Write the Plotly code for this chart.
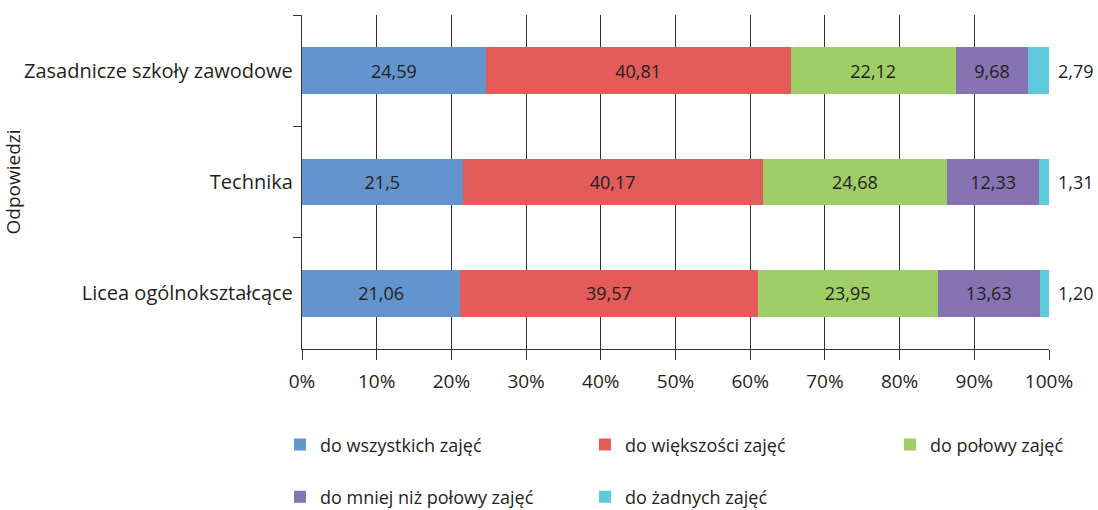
import plotly.graph_objects as go

categories = ["Zasadnicze szkoły zawodowe", "Technika", "Licea ogólnokształcące"]
series_names = ["do wszystkich zajęć", "do większości zajęć", "do połowy zajęć",
                "do mniej niż połowy zajęć", "do żadnych zajęć"]
v_all = [24.59, 21.50, 21.06]
v_most = [40.81, 40.17, 39.57]
v_half = [22.12, 24.68, 23.95]
v_less = [9.68, 12.33, 13.63]
v_none = [2.79, 1.31, 1.20]
t_all = ["24,59", "21,5", "21,06"]
t_most = ["40,81", "40,17", "39,57"]
t_half = ["22,12", "24,68", "23,95"]
t_less = ["9,68", "12,33", "13,63"]
t_none = ["2,79", "1,31", "1,20"]
x_tickvals = [0, 10, 20, 30, 40, 50, 60, 70, 80, 90, 100]
x_ticktext = ["0%", "10%", "20%", "30%", "40%", "50%", "60%", "70%", "80%", "90%", "100%"]

colors = ["#6394CE", "#E35C59", "#9FCD66", "#8873B2", "#5FC9DC"]
values = [v_all, v_most, v_half, v_less, v_none]
texts = [t_all, t_most, t_half, t_less, t_none]

FONT = "Open Sans"
TXT = "#231F20"
LINE = "#333333"

fig = go.Figure()
for i, (name, vals, txt, col) in enumerate(zip(series_names, values, texts, colors)):
    last = i == len(series_names) - 1
    fig.add_trace(go.Bar(
        y=categories, x=vals, name=name, orientation="h",
        marker=dict(color=col, line=dict(width=0)),
        text=None if last else txt,
        textposition="none" if last else "inside",
        insidetextanchor="middle",
        textangle=0,
        textfont=dict(family=FONT, size=18, color=TXT),
        legend="legend" if i < 3 else "legend2",
        hoverinfo="skip",
    ))

# value labels for the last (thin) segment, placed just right of the 100% end
for cat, lab in zip(categories, t_none):
    fig.add_annotation(
        x=100, y=cat, xref="x", yref="y", text=lab, showarrow=False,
        xanchor="left", yanchor="middle", xshift=7,
        font=dict(family=FONT, size=18, color=TXT),
    )

fig.update_layout(
    width=1098, height=510,
    barmode="stack", barnorm="percent", bargap=0.58,
    plot_bgcolor="white", paper_bgcolor="white",
    margin=dict(l=302, r=49, t=15, b=161, autoexpand=False),
    font=dict(family=FONT, size=18, color=TXT),
    xaxis=dict(
        range=[0, 100], tickvals=x_tickvals, ticktext=x_ticktext,
        showgrid=True, gridcolor=LINE, gridwidth=1.3,
        showline=True, linecolor=LINE, linewidth=1.3,
        ticks="outside", ticklen=10, tickcolor=LINE, tickwidth=1.3,
        tickfont=dict(family=FONT, size=19, color=TXT),
        ticklabelstandoff=5, zeroline=False,
    ),
    yaxis=dict(
        autorange="reversed",
        showline=True, linecolor=LINE, linewidth=1.3,
        ticks="outside", ticklen=8, tickcolor=LINE, tickwidth=1.3,
        tickson="boundaries", showgrid=False,
        tickfont=dict(family=FONT, size=20, color=TXT),
        ticklabelstandoff=4,
        title=dict(text="Odpowiedzi", font=dict(family=FONT, size=19, color=TXT), standoff=2),
    ),
    legend=dict(
        orientation="h", x=-0.0295, xanchor="left", y=-0.287, yanchor="middle",
        entrywidth=260, font=dict(family=FONT, size=18, color=TXT),
        bgcolor="rgba(0,0,0,0)", traceorder="normal",
    ),
    legend2=dict(
        orientation="h", x=-0.0295, xanchor="left", y=-0.443, yanchor="middle",
        entrywidth=260, font=dict(family=FONT, size=18, color=TXT),
        bgcolor="rgba(0,0,0,0)", traceorder="normal",
    ),
)

fig.write_html("out.html", config={"displayModeBar": False},
               post_script="document.body.style.margin='0';")
